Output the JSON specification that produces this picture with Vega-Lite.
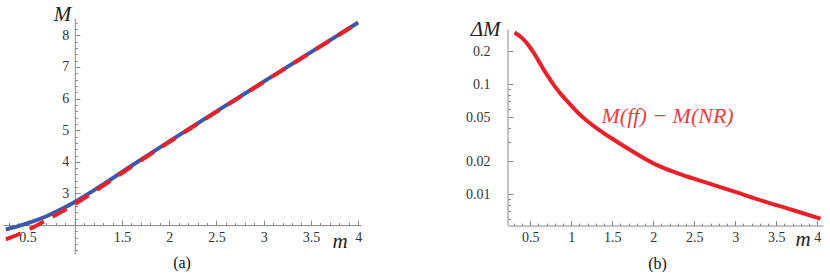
{
  "$schema": "https://vega.github.io/schema/vega-lite/v6.json",
  "background": "white",
  "padding": {"left": -3, "top": 3, "right": 0, "bottom": 0},
  "autosize": {"type": "pad"},
  "spacing": 98,
  "config": {
    "view": {"stroke": null},
    "font": "'Liberation Serif', 'Times New Roman', serif",
    "axis": {
      "grid": false,
      "domainColor": "#888888",
      "domainWidth": 1,
      "tickColor": "#888888",
      "tickWidth": 1,
      "labelColor": "#333333",
      "labelFont": "'Liberation Serif', 'Times New Roman', serif",
      "labelFontSize": 14,
      "labelOverlap": false,
      "labelFlush": false,
      "labelBound": false,
      "titleFont": "'Liberation Serif', 'Times New Roman', serif",
      "titleFontStyle": "italic",
      "titleFontWeight": "normal",
      "titleFontSize": 21,
      "titleColor": "#222222",
      "titleAngle": 0
    },
    "title": {"font": "'Liberation Serif', 'Times New Roman', serif", "fontWeight": "normal", "fontSize": 16, "color": "#111111"}
  },
  "hconcat": [
    {
      "width": 358,
      "height": 235.5,
      "title": {"text": "(a)", "orient": "bottom", "offset": -2},
      "data": {"values": [
        {"s": "ff", "m": 0.27, "M": 1.86},
        {"s": "ff", "m": 0.4, "M": 1.964},
        {"s": "ff", "m": 0.55, "M": 2.107},
        {"s": "ff", "m": 0.7, "M": 2.279},
        {"s": "ff", "m": 0.85, "M": 2.489},
        {"s": "ff", "m": 1.0, "M": 2.729},
        {"s": "ff", "m": 1.25, "M": 3.191},
        {"s": "ff", "m": 1.5, "M": 3.679},
        {"s": "ff", "m": 1.75, "M": 4.166},
        {"s": "ff", "m": 2.0, "M": 4.646},
        {"s": "ff", "m": 2.5, "M": 5.596},
        {"s": "ff", "m": 3.0, "M": 6.536},
        {"s": "ff", "m": 3.5, "M": 7.471},
        {"s": "ff", "m": 4.0, "M": 8.406},
        {"s": "NR", "m": 0.27, "M": 1.55},
        {"s": "NR", "m": 0.4, "M": 1.702},
        {"s": "NR", "m": 0.55, "M": 1.917},
        {"s": "NR", "m": 0.7, "M": 2.157},
        {"s": "NR", "m": 0.85, "M": 2.401},
        {"s": "NR", "m": 1.0, "M": 2.665},
        {"s": "NR", "m": 1.25, "M": 3.147},
        {"s": "NR", "m": 1.5, "M": 3.647},
        {"s": "NR", "m": 1.75, "M": 4.141},
        {"s": "NR", "m": 2.0, "M": 4.627},
        {"s": "NR", "m": 2.5, "M": 5.582},
        {"s": "NR", "m": 3.0, "M": 6.526},
        {"s": "NR", "m": 3.5, "M": 7.463},
        {"s": "NR", "m": 4.0, "M": 8.4}
      ]},
      "encoding": {
        "x": {
          "field": "m", "type": "quantitative",
          "scale": {"domain": [0.24, 4.03], "nice": false, "zero": false},
          "axis": {
            "orient": "bottom",
            "offset": -28.45,
            "values": [0.3,0.4,0.5,0.6,0.7,0.8,0.9,1,1.1,1.2,1.3,1.4,1.5,1.6,1.7,1.8,1.9,2,2.1,2.2,2.3,2.4,2.5,2.6,2.7,2.8,2.9,3,3.1,3.2,3.3,3.4,3.5,3.6,3.7,3.8,3.9,4],
            "labelExpr": "abs(datum.value*2 - round(datum.value*2)) < 0.001 && abs(datum.value - 1) > 0.001 ? format(datum.value, '~g') : ''",
            "tickSize": {"condition": {"test": "abs(datum.value*2 - round(datum.value*2)) < 0.001", "value": -5}, "value": -2.5},
            "labelPadding": 10,
            "title": "m",
            "titleX": 329,
            "titleY": 22,
            "titleAlign": "left",
            "titleBaseline": "alphabetic"
          }
        },
        "y": {
          "field": "M", "type": "quantitative",
          "scale": {"domain": [1.1, 8.55], "nice": false, "zero": false},
          "axis": {
            "orient": "left",
            "offset": -71.8,
            "values": [1.2,1.4,1.6,1.8,2,2.2,2.4,2.6,2.8,3,3.2,3.4,3.6,3.8,4,4.2,4.4,4.6,4.8,5,5.2,5.4,5.6,5.8,6,6.2,6.4,6.6,6.8,7,7.2,7.4,7.6,7.8,8,8.2,8.4],
            "labelExpr": "abs(datum.value - round(datum.value)) < 0.001 && abs(datum.value - 2) > 0.001 ? format(datum.value, '~g') : ''",
            "tickSize": {"condition": {"test": "abs(datum.value - round(datum.value)) < 0.001", "value": -5}, "value": -2.5},
            "labelPadding": 11,
            "title": "M",
            "titleX": -4,
            "titleY": 2.5,
            "titleAlign": "right",
            "titleBaseline": "alphabetic"
          }
        }
      },
      "layer": [
        {
          "transform": [{"filter": "datum.s == 'ff'"}],
          "mark": {"type": "line", "color": "#3d58a8", "strokeWidth": 4, "interpolate": "monotone"}
        },
        {
          "transform": [{"filter": "datum.s == 'NR'"}],
          "mark": {"type": "line", "color": "#e8202a", "strokeWidth": 4, "strokeDash": [16, 10], "interpolate": "monotone"}
        }
      ]
    },
    {
      "width": 315,
      "height": 207.5,
      "title": {"text": "(b)", "orient": "bottom", "offset": 6, "dx": -8},
      "encoding": {
        "x": {
          "field": "m", "type": "quantitative",
          "scale": {"domain": [0.23, 4.07], "nice": false, "zero": false},
          "axis": {
            "orient": "bottom",
            "values": [0.3,0.4,0.5,0.6,0.7,0.8,0.9,1,1.1,1.2,1.3,1.4,1.5,1.6,1.7,1.8,1.9,2,2.1,2.2,2.3,2.4,2.5,2.6,2.7,2.8,2.9,3,3.1,3.2,3.3,3.4,3.5,3.6,3.7,3.8,3.9,4],
            "labelExpr": "abs(datum.value*2 - round(datum.value*2)) < 0.001 ? format(datum.value, '~g') : ''",
            "tickSize": {"condition": {"test": "abs(datum.value*2 - round(datum.value*2)) < 0.001", "value": -5}, "value": -2.5},
            "labelPadding": 10,
            "title": "m",
            "titleX": 287,
            "titleY": 20,
            "titleAlign": "left",
            "titleBaseline": "alphabetic"
          }
        },
        "y": {
          "field": "d", "type": "quantitative",
          "scale": {"type": "log", "domain": [0.0052, 0.402], "nice": false, "zero": false},
          "axis": {
            "orient": "left",
            "domain": false,
            "values": [0.006,0.007,0.008,0.009,0.01,0.02,0.03,0.04,0.05,0.06,0.07,0.08,0.09,0.1,0.2],
            "labelExpr": "indexof([0.01,0.02,0.05,0.1,0.2], datum.value) >= 0 ? format(datum.value, '~g') : ''",
            "tickSize": {"condition": {"test": "indexof([0.01,0.02,0.05,0.1,0.2], datum.value) >= 0", "value": -5}, "value": -2.5},
            "labelPadding": 23,
            "title": "ΔM",
            "titleX": -8,
            "titleY": 17.5,
            "titleAlign": "right",
            "titleBaseline": "alphabetic"
          }
        }
      },
      "layer": [
        {
          "data": {"values": [{"m": 0.23, "d": 0.0052, "d2": 0.316}]},
          "mark": {"type": "rule", "color": "#888888", "strokeWidth": 1},
          "encoding": {"y2": {"field": "d2"}}
        },
        {
          "data": {"values": [
            {"m": 0.31, "d": 0.297},
            {"m": 0.4, "d": 0.265},
            {"m": 0.48, "d": 0.227},
            {"m": 0.56, "d": 0.185},
            {"m": 0.64, "d": 0.147},
            {"m": 0.72, "d": 0.1175},
            {"m": 0.8, "d": 0.0959},
            {"m": 0.88, "d": 0.0807},
            {"m": 0.96, "d": 0.0693},
            {"m": 1.12, "d": 0.052},
            {"m": 1.33, "d": 0.039},
            {"m": 1.53, "d": 0.031},
            {"m": 1.73, "d": 0.025},
            {"m": 2.02, "d": 0.0188},
            {"m": 2.3, "d": 0.0155},
            {"m": 2.6, "d": 0.0131},
            {"m": 3.0, "d": 0.0105},
            {"m": 3.4, "d": 0.0084},
            {"m": 3.7, "d": 0.0072},
            {"m": 4.04, "d": 0.006}
          ]},
          "mark": {"type": "line", "color": "#e8202a", "strokeWidth": 4, "interpolate": "monotone"}
        },
        {
          "data": {"values": [{"m": 1.37, "d": 0.052, "label": "M(ff) − M(NR)"}]},
          "mark": {"type": "text", "font": "'Liberation Serif', 'Times New Roman', serif", "fontStyle": "italic", "fontSize": 22, "color": "#ee3b44", "align": "left", "baseline": "middle"},
          "encoding": {"text": {"field": "label"}}
        }
      ]
    }
  ]
}
